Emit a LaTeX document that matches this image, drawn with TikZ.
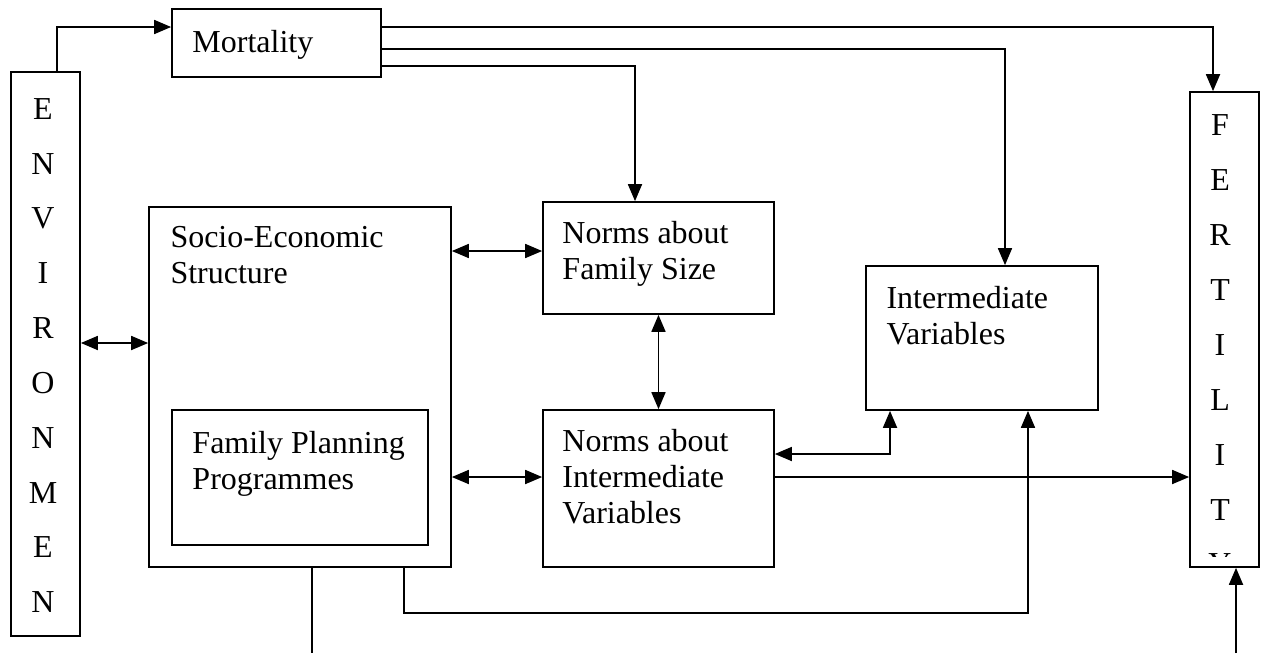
\documentclass[tikz,border=0pt]{standalone}
\usepackage{fontspec}
\setmainfont{Liberation Serif}
\usetikzlibrary{positioning,arrows.meta}

\begin{document}
\begin{tikzpicture}[x=0.02cm, y=-0.02cm, font=\fontsize{18.2}{20.4}\selectfont]

% Define styles
\tikzstyle{box} = [rectangle, draw=black, line width=1pt, inner sep=0pt]
\tikzstyle{boxtext} = [inner sep=0pt, align=left, anchor=north west]
\tikzstyle{letter} = [inner sep=0pt]
\tikzstyle{link} = [line width=1pt, -{Triangle[length=0.34cm, width=0.28cm]}]
\tikzstyle{dlink} = [line width=1pt, {Triangle[length=0.34cm, width=0.28cm]}-{Triangle[length=0.34cm, width=0.28cm]}]
\tikzstyle{plain} = [line width=1pt]

\useasboundingbox (0,0) rectangle (1264,653);

% Main boxes
\node [box, minimum width=1.38cm, minimum height=11.28cm] (env) at (45.5,354) {};
\node [box, minimum width=4.18cm, minimum height=1.36cm] (mort) at (276.5,43) {};
\node [box, minimum width=1.38cm, minimum height=9.5cm] (fert) at (1224.5,329.5) {};
\node [box, minimum width=6.04cm, minimum height=7.2cm] (socio) at (300,387) {};
\node [box, minimum width=5.12cm, minimum height=2.7cm] (fp) at (300,477.5) {};
\node [box, minimum width=4.62cm, minimum height=2.24cm] (nfs) at (658.5,258) {};
\node [box, minimum width=4.64cm, minimum height=2.88cm] (iv) at (982,338) {};
\node [box, minimum width=4.62cm, minimum height=3.14cm] (niv) at (658.5,488.5) {};

% Box texts
\node [boxtext, below right=0.44cm and 0.42cm of mort.north west] (mort_txt) {Mortality};
\node [boxtext, below right=0.4cm and 0.44cm of socio.north west] (socio_txt) {Socio-Economic\\Structure};
\node [boxtext, below right=0.44cm and 0.42cm of fp.north west] (fp_txt) {Family Planning\\Programmes};
\node [boxtext, below right=0.4cm and 0.4cm of nfs.north west] (nfs_txt) {Norms about\\Family Size};
\node [boxtext, below right=0.42cm and 0.42cm of iv.north west] (iv_txt) {Intermediate\\Variables};
\node [boxtext, below right=0.4cm and 0.4cm of niv.north west] (niv_txt) {Norms about\\Intermediate\\Variables};

% Vertical letters
\foreach \ch [count=\i] in {E,N,V,I,R,O,N,M,E,N}
  \node [letter] (env_\i) at (43,54.8*\i+54.2) {\ch};
\foreach \ch [count=\i] in {F,E,R,T,I,L,I,T}
  \node [letter] (fert_\i) at (1220,55*\i+70) {\ch};
\begin{scope}
  \clip ([yshift=0.22cm]fert.south west) rectangle (fert.north east);
  \node [letter] (fert_9) at (1220,564) {Y};
\end{scope}

% Free ends at the bottom
\coordinate (socio_out) at (312,653);
\coordinate (fert_in) at (1236,653);

% Connectors from mortality
\draw [link] ([xshift=0.23cm]env.north) |- ([yshift=0.32cm]mort.west);
\draw [link] ([yshift=0.32cm]mort.east) -| ([xshift=-0.23cm]fert.north);
\draw [link] ([yshift=-0.12cm]mort.east) -| ([xshift=0.46cm]iv.north);
\draw [link] ([yshift=-0.46cm]mort.east) -| ([xshift=-0.47cm]nfs.north);

% Two-way links
\draw [dlink] ([yshift=0.22cm]env.east) -- ([yshift=0.22cm]env.east -| socio.west);
\draw [dlink] ([yshift=0.14cm]nfs.west -| socio.east) -- ([yshift=0.14cm]nfs.west);
\draw [dlink] (nfs.south) -- (niv.north);
\draw [dlink] ([yshift=0.23cm]niv.west -| socio.east) -- ([yshift=0.23cm]niv.west);
\draw [dlink] ([yshift=0.69cm]niv.east) -| ([xshift=-1.84cm]iv.south);

% Links into fertility and intermediate variables
\draw [link] ([yshift=0.23cm]niv.east) -- ([yshift=0.23cm]niv.east -| fert.west);
\draw [link] ([xshift=2.08cm]socio.south) -- ++(0,45) -| ([xshift=0.92cm]iv.south);
\draw [plain] (socio_out |- socio.south) -- (socio_out);
\draw [link] (fert_in) -- (fert_in |- fert.south);

\end{tikzpicture}
\end{document}
